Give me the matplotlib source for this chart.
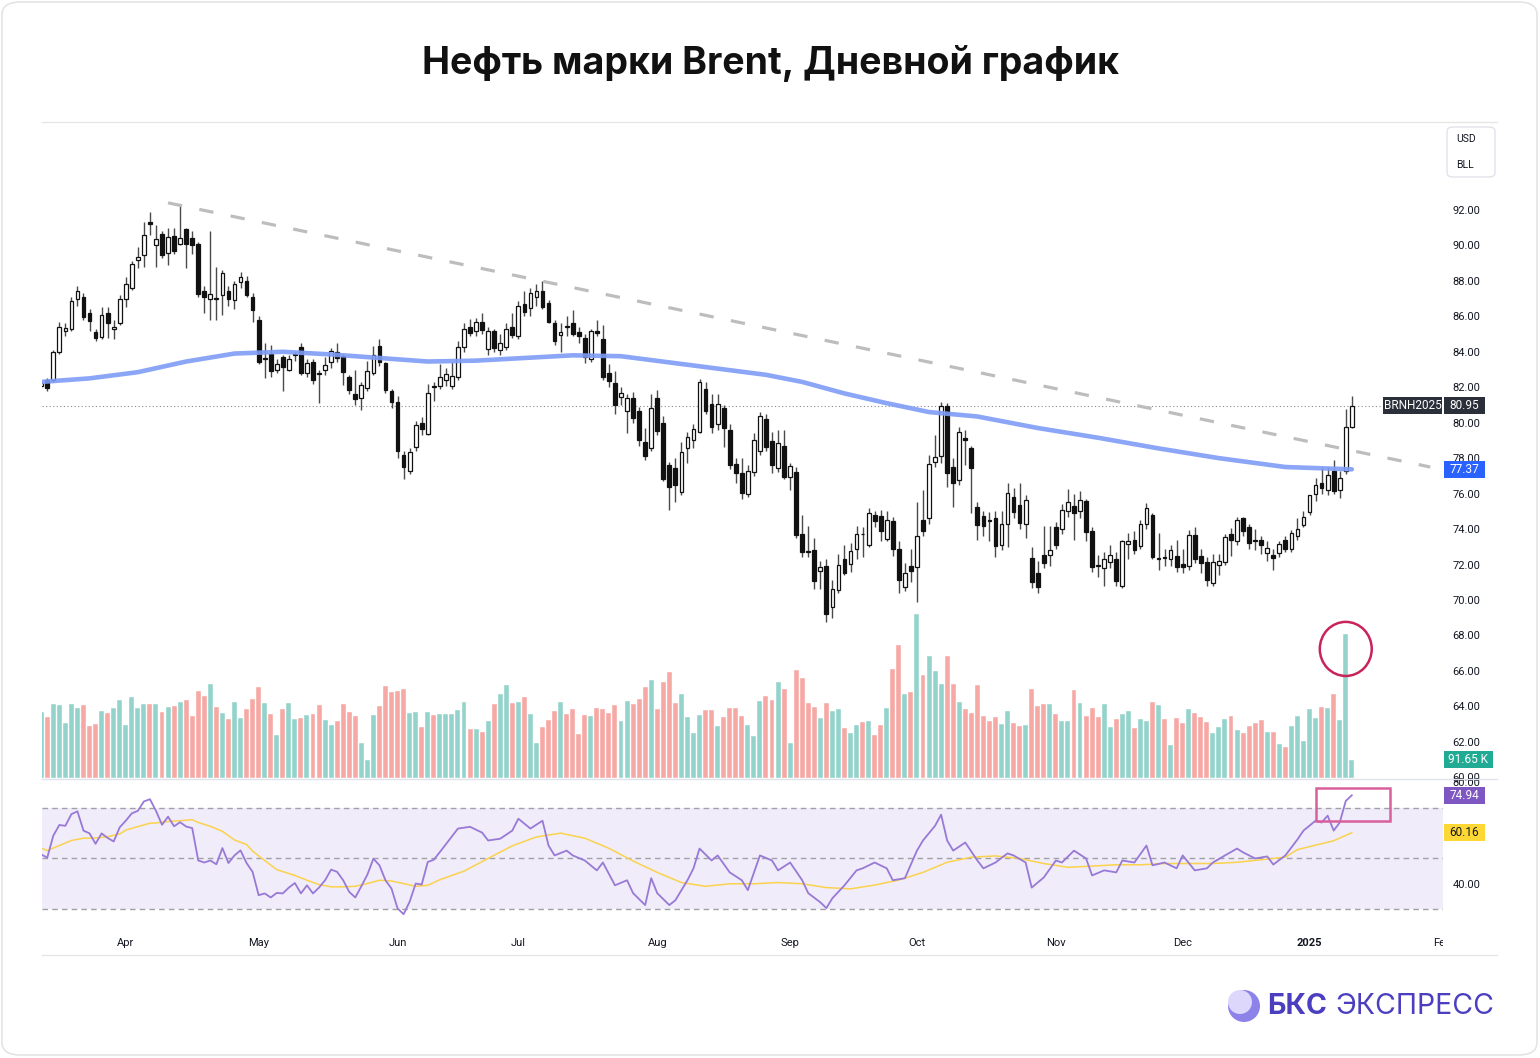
import numpy as np
import pandas as pd
import matplotlib
matplotlib.use("Agg")
import matplotlib.pyplot as plt
from matplotlib.patches import Rectangle, Ellipse, FancyBboxPatch
from matplotlib.lines import Line2D
from matplotlib.transforms import Bbox, TransformedBbox

plt.rcParams['font.family'] = ['Roboto', 'DejaVu Sans']

# торговые дни (BRNH2025), без 25 дек и 1 янв
dates = pd.bdate_range("2024-03-12", "2025-01-13")
dates = dates.drop(pd.to_datetime(["2024-12-25", "2025-01-01"]))

opens = [82.05, 82.40, 82.40, 84.00, 85.15, 85.30, 86.95, 87.10, 86.20, 85.10,
         84.85, 86.20, 85.28, 85.65, 87.00, 87.60, 89.20, 89.45, 91.30, 90.05,
         90.65, 89.55, 90.55, 90.10, 90.90, 90.40, 90.10, 87.45, 87.00, 87.05,
         87.20, 87.45, 86.90, 87.95, 88.00, 87.10, 85.80, 83.60, 83.85, 82.95,
         83.70, 83.00, 83.80, 84.25, 82.80, 83.45, 82.80, 83.00, 83.40, 84.00,
         83.75, 82.60, 81.60, 81.40, 81.95, 82.80, 84.30, 83.35, 81.80, 81.15,
         78.20, 77.30, 78.65, 80.00, 79.35, 82.05, 82.05, 82.40, 82.05, 82.60,
         84.25, 85.40, 85.20, 85.70, 84.15, 85.15, 84.10, 84.25, 85.40, 84.90,
         86.70, 86.45, 87.10, 87.45, 86.75, 85.65, 84.92, 85.45, 85.65, 85.10,
         84.80, 83.60, 85.20, 84.70, 82.80, 82.25, 81.45, 80.65, 81.40, 80.65,
         78.90, 78.55, 81.40, 80.00, 77.60, 77.45, 76.10, 78.55, 79.05, 79.50,
         81.90, 81.05, 79.90, 80.85, 79.60, 77.65, 77.15, 76.00, 77.20, 78.40,
         80.20, 78.95, 77.45, 78.70, 76.95, 77.20, 73.70, 72.75, 72.80, 71.65,
         71.90, 69.60, 70.55, 72.30, 72.05, 72.90, 73.75, 73.10, 74.80, 74.75,
         73.45, 74.45, 72.90, 70.75, 71.90, 71.85, 74.50, 74.60, 77.80, 78.10,
         80.95, 77.50, 76.75, 79.15, 78.55, 75.25, 74.75, 74.50, 74.60, 73.10,
         74.30, 75.80, 75.35, 74.30, 72.35, 71.55, 72.55, 72.55, 74.10, 74.00,
         75.00, 75.30, 75.00, 75.60, 73.90, 71.95, 71.80, 72.15, 72.30, 70.80,
         73.15, 73.40, 73.05, 74.30, 74.80, 72.30, 72.40, 72.30, 72.50, 72.05,
         71.90, 73.65, 72.50, 72.15, 70.95, 72.00, 72.15, 73.70, 73.35, 74.60,
         74.10, 73.40, 73.40, 72.65, 72.55, 72.65, 73.40, 72.85, 73.60, 74.25,
         74.95, 76.00, 76.60, 76.20, 77.30, 76.20, 77.25, 79.75]
highs = [82.40, 82.50, 84.10, 85.70, 85.60, 87.10, 87.70, 87.30, 86.40, 85.30,
         86.50, 86.50, 85.80, 87.20, 88.20, 89.10, 89.90, 91.30, 91.90, 91.15,
         90.80, 91.00, 91.00, 92.30, 91.00, 90.80, 90.20, 87.70, 90.80, 88.80,
         88.60, 87.70, 88.00, 88.50, 88.30, 87.30, 86.00, 84.50, 84.40, 83.60,
         83.80, 83.80, 84.00, 84.50, 83.60, 83.60, 83.00, 83.70, 84.20, 84.50,
         83.90, 82.70, 83.00, 82.30, 83.50, 84.30, 84.70, 83.40, 81.90, 81.50,
         78.40, 78.60, 80.10, 80.30, 82.20, 82.30, 83.30, 83.10, 83.40, 84.60,
         85.60, 85.85, 85.90, 86.20, 85.40, 85.30, 85.00, 85.60, 86.20, 86.85,
         87.40, 87.60, 87.80, 88.00, 86.90, 85.80, 85.60, 86.00, 86.35, 85.40,
         85.00, 85.30, 85.80, 85.50, 83.30, 82.90, 82.00, 81.60, 81.75, 80.90,
         79.70, 81.60, 81.85, 80.40, 77.80, 78.00, 78.90, 79.50, 79.95, 82.45,
         82.30, 81.60, 81.60, 81.00, 79.90, 78.00, 78.00, 77.60, 79.40, 80.60,
         80.50, 79.50, 79.60, 79.60, 77.70, 77.50, 74.80, 74.20, 73.50, 72.20,
         72.30, 71.10, 72.60, 73.10, 73.20, 74.20, 74.10, 75.20, 75.00, 75.10,
         75.00, 74.70, 73.30, 72.10, 72.90, 75.50, 76.20, 78.20, 79.30, 81.15,
         81.10, 78.00, 79.75, 79.60, 78.70, 75.50, 75.00, 74.95, 75.00, 75.00,
         76.60, 76.30, 76.60, 75.90, 73.00, 72.20, 74.20, 74.20, 74.40, 75.40,
         76.25, 76.00, 76.15, 75.70, 74.10, 72.55, 72.70, 73.10, 72.70, 73.40,
         73.80, 73.90, 74.50, 75.45, 74.90, 73.80, 72.90, 73.10, 73.40, 72.90,
         73.95, 74.10, 72.90, 72.40, 72.60, 72.60, 73.70, 74.05, 74.70, 74.70,
         74.30, 74.00, 73.60, 73.30, 72.90, 73.30, 73.60, 73.95, 74.60, 75.00,
         75.95, 76.90, 77.50, 77.50, 77.90, 77.30, 80.80, 81.50]
lows = [81.95, 81.80, 82.30, 83.90, 84.90, 85.20, 86.60, 85.80, 85.15, 84.60,
        84.70, 84.80, 84.70, 85.50, 86.50, 87.50, 88.70, 88.80, 90.60, 88.80,
        89.30, 88.90, 89.50, 90.00, 88.70, 89.50, 87.10, 86.20, 85.80, 85.80,
        86.10, 86.60, 86.40, 87.60, 87.10, 85.70, 83.30, 82.50, 82.60, 82.80,
        81.80, 82.90, 83.50, 82.70, 82.60, 82.20, 81.10, 82.70, 83.10, 83.40,
        82.10, 81.60, 81.00, 80.70, 81.80, 82.70, 83.20, 81.70, 80.85, 78.00,
        76.80, 77.10, 78.40, 79.30, 79.30, 81.25, 81.90, 82.05, 81.90, 82.40,
        84.00, 84.90, 84.90, 85.00, 83.80, 84.00, 83.80, 84.10, 84.80, 84.70,
        86.00, 86.00, 86.60, 86.40, 85.60, 84.40, 84.00, 84.90, 84.90, 84.50,
        83.35, 83.40, 84.90, 82.40, 82.00, 80.50, 81.00, 79.40, 80.00, 78.70,
        77.90, 78.40, 79.30, 76.70, 75.10, 75.50, 75.90, 77.70, 78.60, 79.40,
        80.50, 79.40, 79.60, 78.65, 77.40, 76.60, 75.70, 75.80, 77.00, 78.20,
        78.40, 77.15, 77.20, 76.80, 76.20, 73.50, 72.45, 72.40, 70.60, 70.60,
        68.75, 69.00, 70.40, 71.40, 71.60, 72.30, 72.40, 73.00, 74.10, 73.30,
        73.30, 72.50, 70.40, 70.50, 71.00, 69.90, 73.60, 74.30, 77.50, 77.70,
        76.40, 75.25, 76.50, 77.60, 74.90, 73.40, 73.60, 73.30, 72.40, 72.80,
        73.00, 74.60, 74.00, 73.50, 70.70, 70.40, 71.80, 71.90, 72.85, 73.70,
        74.70, 73.40, 74.60, 73.30, 71.60, 71.30, 70.80, 71.80, 70.80, 70.70,
        72.30, 72.60, 72.90, 74.00, 72.30, 71.70, 71.90, 71.90, 71.60, 71.50,
        71.70, 72.10, 71.50, 70.80, 70.80, 71.40, 72.00, 72.50, 73.10, 73.60,
        72.90, 72.80, 72.60, 72.20, 71.70, 72.40, 72.70, 72.70, 73.40, 74.10,
        74.80, 75.60, 76.00, 75.90, 76.00, 75.75, 77.10, 79.70]
closes = [82.25, 81.95, 84.00, 85.40, 85.35, 86.85, 87.40, 85.95, 85.75, 84.80,
          86.05, 85.60, 85.40, 87.00, 87.80, 88.95, 89.35, 90.60, 91.20, 90.35,
          89.45, 90.45, 89.70, 90.40, 90.10, 90.00, 87.25, 87.10, 87.25, 87.00,
          88.45, 87.00, 87.80, 88.20, 87.20, 86.35, 83.40, 83.65, 82.90, 83.30,
          83.15, 83.60, 83.87, 82.80, 83.35, 82.40, 82.75, 83.25, 84.05, 83.65,
          82.85, 81.85, 81.35, 82.10, 82.90, 83.80, 83.40, 81.85, 81.15, 78.40,
          77.50, 78.35, 79.85, 79.65, 81.65, 82.00, 82.55, 82.75, 82.65, 84.25,
          85.30, 85.05, 85.70, 85.25, 85.15, 84.20, 84.50, 85.30, 84.95, 86.60,
          86.25, 87.30, 87.45, 86.50, 85.70, 84.60, 85.10, 85.40, 85.00, 84.90,
          83.70, 85.15, 85.05, 82.60, 82.35, 81.00, 81.70, 81.40, 80.25, 79.05,
          78.10, 80.85, 79.55, 76.85, 76.35, 76.50, 78.35, 79.20, 79.65, 82.30,
          80.65, 79.75, 81.05, 79.70, 77.60, 77.15, 76.05, 77.25, 79.05, 80.35,
          78.65, 77.60, 78.85, 76.95, 77.55, 73.65, 72.70, 72.70, 71.05, 71.85,
          69.20, 70.60, 71.95, 71.55, 72.75, 73.70, 73.70, 74.90, 74.45, 73.90,
          74.50, 72.85, 71.10, 71.55, 71.65, 73.60, 73.90, 77.65, 78.05, 80.95,
          77.15, 76.60, 79.45, 79.00, 77.45, 74.25, 74.20, 74.45, 73.05, 74.30,
          76.05, 74.95, 74.35, 75.65, 71.00, 70.75, 72.10, 72.80, 73.10, 75.10,
          75.50, 74.90, 75.65, 73.85, 71.85, 71.90, 72.30, 72.55, 71.05, 73.30,
          73.35, 72.80, 74.30, 75.20, 72.45, 72.35, 72.35, 72.80, 71.85, 71.85,
          73.65, 72.30, 72.10, 71.10, 72.15, 72.20, 73.55, 73.40, 74.50, 73.90,
          73.20, 73.35, 73.10, 72.95, 72.35, 73.15, 72.85, 73.80, 74.00, 74.70,
          75.90, 76.50, 76.30, 77.05, 76.15, 76.90, 79.75, 80.95]

# объём, тыс. контрактов
volume_k = [330, 305, 370, 367, 275, 370, 350, 367, 260, 270,
            337, 325, 350, 392, 265, 407, 350, 370, 370, 370,
            330, 357, 362, 382, 392, 310, 437, 412, 472, 357,
            325, 295, 382, 300, 347, 397, 457, 375, 320, 213,
            347, 375, 295, 300, 315, 320, 367, 290, 265, 285,
            370, 330, 310, 173, 92, 315, 362, 461, 431, 437,
            446, 325, 330, 255, 330, 315, 320, 320, 320, 340,
            382, 245, 245, 228, 285, 370, 421, 466, 375, 382,
            407, 320, 173, 255, 290, 335, 382, 320, 347, 218,
            315, 310, 350, 347, 325, 367, 285, 387, 370, 397,
            457, 488, 347, 478, 530, 375, 421, 305, 223, 315,
            342, 342, 260, 305, 350, 350, 310, 265, 208, 387,
            412, 392, 478, 446, 173, 538, 498, 377, 357, 300,
            377, 337, 347, 250, 223, 265, 280, 285, 213, 265,
            352, 543, 666, 421, 431, 818, 513, 610, 533, 472,
            610, 472, 382, 347, 325, 466, 310, 285, 305, 270,
            337, 275, 260, 265, 446, 362, 372, 372, 320, 285,
            285, 441, 377, 310, 352, 305, 372, 255, 295, 320,
            337, 250, 295, 285, 382, 367, 295, 163, 300, 275,
            347, 325, 305, 280, 223, 255, 295, 310, 240, 223,
            260, 275, 290, 228, 228, 168, 153, 260, 310, 183,
            347, 300, 357, 352, 421, 290, 721, 91.65]

# скользящая средняя (синяя линия), точки с графика
ma_idx = [0, 8, 16, 24, 32, 40, 48, 56, 64, 72, 80, 88, 96, 104, 112, 120,
          126, 133, 140, 147, 155, 165, 175, 185, 195, 206, 217]
ma_val = [82.30, 82.50, 82.85, 83.45, 83.90, 84.00, 83.85, 83.65, 83.45, 83.50,
          83.65, 83.80, 83.75, 83.40, 83.05, 82.70, 82.30, 81.65, 81.10, 80.60,
          80.35, 79.70, 79.15, 78.55, 78.00, 77.50, 77.37]

# нисходящая линия тренда
trend_idx = [21, 230]
trend_val = [92.4, 77.5]

# RSI
rsi_idx = list(range(67)) + [69, 71, 73, 74, 76, 78, 79, 81, 83, 84, 85, 87, 88, 90, 92, 93, 95, 97,
                             98, 100, 101, 102, 104, 105, 107, 108, 109, 111, 112, 114, 116, 117, 119,
                             121, 122, 124, 126, 127, 129, 130, 131, 133, 135, 136, 138, 140, 141, 143,
                             145, 146, 148, 149, 150, 151, 153, 155, 156, 158, 160, 161, 163, 164, 166,
                             168, 169, 171, 173, 174, 176, 178, 179, 181, 183, 184, 186, 188, 189, 191,
                             193, 194, 196, 198, 199, 201, 203, 204, 206, 208, 209, 211, 212, 213, 214,
                             215, 216, 217]
rsi_val = [51.6, 50.3, 59.0, 63.2, 62.9, 67.5, 68.6, 61.0, 59.9, 55.8,
           59.9, 58.1, 56.7, 62.3, 64.9, 67.8, 68.8, 72.5, 73.4, 68.8,
           63.3, 66.5, 62.7, 64.3, 62.6, 62.0, 49.2, 48.4, 49.2, 47.7,
           54.1, 48.2, 51.2, 53.2, 48.2, 44.7, 35.5, 36.2, 34.6, 36.4,
           36.2, 38.5, 40.3, 36.2, 39.4, 36.2, 38.5, 41.4, 45.6, 44.7,
           41.4, 36.8, 34.6, 39.0, 43.6, 49.9, 47.3, 41.4, 38.1, 30.3,
           28.0, 32.9, 40.1, 39.7, 48.6, 49.5, 52.5,
           61.8, 62.5, 60.2, 57.1, 57.8, 61.0, 65.7, 61.8, 64.9, 55.1, 51.2, 53.1, 51.2, 49.2,
           45.3, 48.4, 39.4, 41.4, 36.3, 31.6, 42.2, 36.3, 31.6, 33.5, 41.4, 46.1, 53.9, 49.2,
           51.2, 44.5, 41.4, 37.5, 51.2, 49.2, 45.3, 48.4, 41.4, 36.3, 32.7, 30.4, 34.3, 39.4,
           45.3, 46.1, 48.4, 46.1, 41.4, 42.2, 53.1, 57.1, 62.9, 67.3, 57.1, 53.1, 56.3, 49.2,
           46.1, 48.4, 52.0, 51.2, 48.4, 38.5, 42.5, 49.2, 48.4, 53.1, 50.0, 43.3, 45.3, 44.5,
           49.2, 48.4, 55.1, 47.3, 48.4, 46.1, 51.2, 45.3, 46.1, 48.4, 51.2, 53.9, 52.4, 50.0,
           50.8, 47.6, 51.2, 57.5, 61.0, 64.9, 64.2, 66.9, 61.0, 64.2, 72.7, 74.94]

rsi_ma_idx = [0, 1, 3, 5, 7, 9, 11, 13, 14, 16, 18, 19, 21, 23, 25, 26, 28, 30, 32, 34, 35, 37,
              39, 42, 44, 46, 48, 50, 52, 54, 56, 58, 60, 62, 64, 66, 70, 74, 78, 82, 86, 90,
              94, 98, 102, 106, 110, 114, 118, 122, 126, 130, 134, 138, 142, 146, 150, 154,
              158, 162, 166, 170, 174, 178, 182, 186, 190, 194, 198, 202, 206, 208, 214, 217]
rsi_ma_val = [54.1, 53.1, 55.1, 57.1, 58.0, 58.1, 58.6, 59.7, 61.2, 62.6, 63.9, 64.0, 64.6, 64.9,
              65.3, 64.2, 62.7, 60.7, 57.3, 55.5, 52.9, 49.2, 45.6, 43.3, 41.4, 39.7, 38.8, 38.8,
              39.0, 40.1, 41.4, 41.1, 40.1, 39.0, 39.4, 41.6, 45.0, 50.0, 55.0, 58.5, 60.0, 58.0,
              54.0, 49.0, 44.5, 40.5, 39.0, 40.0, 40.0, 40.5, 40.0, 38.5, 38.0, 39.5, 41.5, 44.5,
              48.5, 50.5, 51.0, 50.0, 48.0, 46.5, 47.0, 47.5, 47.5, 48.0, 48.0, 48.0, 48.5, 49.5,
              50.5, 53.5, 57.0, 60.16]

price_ticks = np.arange(60, 93, 2)
month_starts = ["2024-04-01", "2024-05-01", "2024-06-01", "2024-07-01", "2024-08-01",
                "2024-09-01", "2024-10-01", "2024-11-01", "2024-12-01", "2025-01-01"]
month_labels = ["Apr", "May", "Jun", "Jul", "Aug", "Sep", "Oct", "Nov", "Dec", "2025", "Feb"]

# ---------- рисуем ----------
W, H = 1540, 1058
fig = plt.figure(figsize=(W / 100, H / 100), dpi=100)
fig.patch.set_facecolor("white")


def fx(px):
    return px / W


def fy(py):
    return 1 - py / H


XLIM = (0.13, 232.1)
ax = fig.add_axes([fx(42), fy(778), fx(1443) - fx(42), fy(122) - fy(778)])
axv = ax.twinx()
ax_rsi = fig.add_axes([fx(42), fy(928), fx(1443) - fx(42), fy(779) - fy(928)])

o = np.array(opens)
h = np.array(highs)
l = np.array(lows)
c = np.array(closes)
x = np.arange(len(c))
up = c >= o

# объём
vol_col = np.where(up, "#93d3cb", "#f6a8a5")
axv.bar(x, volume_k, width=0.82, color=vol_col, edgecolor="white", linewidth=0.3)
axv.set_ylim(0, 3280)
axv.axis("off")
ax.set_zorder(axv.get_zorder() + 1)
ax.patch.set_visible(False)

# свечи
ax.vlines(x, l, h, color="#4a4a4a", lw=1.0, zorder=2)
body_b = np.minimum(o, c)
body_h = np.maximum(np.abs(c - o), 0.04)
ax.bar(x[up], body_h[up], bottom=body_b[up], width=0.62, color="white",
       edgecolor="#111111", linewidth=0.9, zorder=3)
ax.bar(x[~up], body_h[~up], bottom=body_b[~up], width=0.62, color="#111111",
       edgecolor="#111111", linewidth=0.9, zorder=3)

ax.plot(ma_idx, ma_val, color="#7f9cf6", lw=3.3, alpha=0.9, solid_capstyle="round", zorder=4)
ax.plot(trend_idx, trend_val, color="#bdbdbd", lw=2.3, dashes=(4.5, 5.5), zorder=4)
ax.axhline(c[-1], color="#8a8d96", lw=0.8, ls=(0, (1, 2.2)), zorder=1)

ax.add_patch(Ellipse((216, 67.24), 8.6, 3.05, fill=False, ec="#c8245a", lw=1.8, zorder=6))

ax.set_xlim(*XLIM)
ax.set_ylim(59.96, 96.96)
ax.set_yticks(price_ticks)
ax.set_yticklabels([f"{t:.2f}" for t in price_ticks])
ax.yaxis.tick_right()
ax.tick_params(axis="y", length=0, pad=7, labelsize=8, labelcolor="#131722")
ax.tick_params(axis="x", bottom=False, labelbottom=False)
for s in ax.spines.values():
    s.set_visible(False)

# RSI
ax_rsi.axhspan(30, 70, color="#f0ecf9", lw=0, zorder=0)
for lvl in (70, 50, 30):
    ax_rsi.axhline(lvl, color="#a0a0a8", lw=1.0, dashes=(4, 3), zorder=1)
ax_rsi.plot(rsi_ma_idx, rsi_ma_val, color="#fbd24c", lw=1.1, zorder=2)
ax_rsi.plot(rsi_idx, rsi_val, color="#9879d6", lw=1.3, zorder=3)
ax_rsi.add_patch(Rectangle((211.1, 64.9), 12.2, 12.9, fill=False, ec="#d9609c", lw=1.8,
                           zorder=5, clip_on=False))
ax_rsi.set_xlim(*XLIM)
ax_rsi.set_ylim(22.55, 81.37)
ax_rsi.set_yticks([40, 60, 80])
ax_rsi.set_yticklabels(["40.00", "60.00", "80.00"])
ax_rsi.yaxis.tick_right()
ax_rsi.tick_params(axis="y", length=0, pad=7, labelsize=8, labelcolor="#131722")
for s in ax_rsi.spines.values():
    s.set_visible(False)

tick_pos = [int(np.argmax(dates >= pd.Timestamp(m))) for m in month_starts]
tick_pos.append(len(dates) + len(pd.bdate_range("2025-01-14", "2025-01-31")))
ax_rsi.set_xticks(tick_pos)
ax_rsi.set_xticklabels(month_labels)
ax_rsi.tick_params(axis="x", length=0, pad=7, labelsize=8, labelcolor="#131722")
clip = TransformedBbox(Bbox([[0, 0], [fx(1443), 1]]), fig.transFigure)
for lab in ax_rsi.get_xticklabels():
    if lab.get_text() == "2025":
        lab.set_fontweight("bold")
    lab.set_clip_box(clip)
    lab.set_clip_on(True)


# ценовые метки справа
def tag(axx, val, txt, fc, tc="white", x0=1444, x1=1485, hh=17):
    yd = axx.transData.transform((0, val))[1]
    fig.patches.append(Rectangle((fx(x0), (yd - hh / 2) / H), (x1 - x0) / W, hh / H,
                                 transform=fig.transFigure, fc=fc, ec="none", zorder=5))
    fig.text((x0 + x1) / 2 / W, yd / H, txt, ha="center", va="center", color=tc,
             fontsize=8.5, zorder=6)


tag(ax, c[-1], "BRNH2025", "#2b2f3a", x0=1383, x1=1442)
tag(ax, c[-1], f"{c[-1]:.2f}", "#2b2f3a")
tag(ax, ma_val[-1], f"{ma_val[-1]:.2f}", "#2962ff")
tag(axv, volume_k[-1], f"{volume_k[-1]:.2f} K", "#22ab94", x1=1493)
tag(ax_rsi, rsi_val[-1], f"{rsi_val[-1]:.2f}", "#7e57c2")
tag(ax_rsi, rsi_ma_val[-1], f"{rsi_ma_val[-1]:.2f}", "#fdd835", tc="#131722")

# рамки и линии
for yy in (122, 955):
    fig.add_artist(Line2D([fx(42), fx(1497)], [fy(yy), fy(yy)], color="#e6e6e6", lw=1))
fig.add_artist(Line2D([fx(42), fx(1497)], [fy(778.5), fy(778.5)], color="#e0e3eb", lw=1))
fig.patches.append(FancyBboxPatch((fx(1447), fy(177)), 48 / W, 50 / H,
                                  boxstyle="round,pad=0,rounding_size=0.004",
                                  transform=fig.transFigure, fc="white", ec="#e0e3eb", lw=1))
fig.text(fx(1456), fy(139), "USD", fontsize=7.5, color="#131722", va="center")
fig.text(fx(1456), fy(165), "BLL", fontsize=7.5, color="#131722", va="center")
fig.patches.append(FancyBboxPatch((fx(2), fy(1055)), 1535 / W, 1053 / H,
                                  boxstyle="round,pad=0,rounding_size=0.012",
                                  transform=fig.transFigure, fc="none", ec="#e4e4e4", lw=1.2))

fig.text(0.5, fy(64), "Нефть марки Brent, Дневной график", ha="center", va="center",
         fontsize=27, fontweight="bold", family=["Inter", "DejaVu Sans"], color="#111111")

# логотип
fig.patches.append(Ellipse((fx(1244), fy(1006)), 32 / W, 32 / H, transform=fig.transFigure,
                           fc="#8c82e8", ec="none"))
fig.patches.append(Ellipse((fx(1240), fy(1002)), 24 / W, 24 / H, transform=fig.transFigure,
                           fc="#dcd7fb", ec="none"))
fig.text(fx(1267), fy(1006), "БКС", fontsize=20.5, fontweight="bold", color="#4b3fbf",
         va="center", family=["Inter", "DejaVu Sans"])
fig.text(fx(1335), fy(1006), "ЭКСПРЕСС", fontsize=20.5, color="#4b3fbf",
         va="center", family=["Inter", "DejaVu Sans"])

fig.savefig("out.png", dpi=100, facecolor="white")
